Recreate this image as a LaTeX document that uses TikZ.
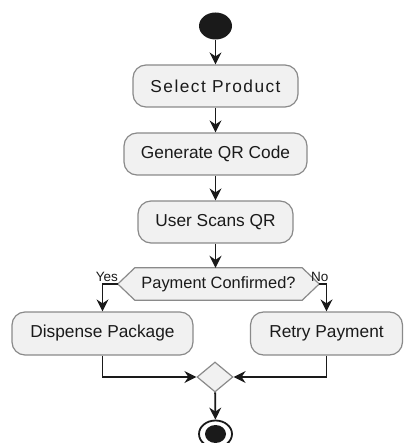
\documentclass[tikz,border=0pt]{standalone}
\usepackage{fontspec}
\setmainfont{Liberation Sans}
\newfontfamily\spacedfont[LetterSpace=8.5]{Liberation Sans}
\usetikzlibrary{arrows.meta,shapes.geometric}
\definecolor{boxfill}{HTML}{F1F1F1}
\definecolor{boxline}{HTML}{8A8A8A}
\definecolor{ink}{HTML}{1A1A1A}
\begin{document}
\begin{tikzpicture}[x=1pt,y=-1pt,
  act/.style={draw=boxline, fill=boxfill, line width=1.2pt, rounded corners=13pt,
    minimum height=42pt, inner sep=0pt, text=ink, font=\fontsize{17.3}{20}\selectfont},
  flow/.style={draw=ink, line width=1.8pt, -{Stealth[length=12pt,width=12pt,inset=4pt]}},
  small/.style={font=\fontsize{13.5}{15}\selectfont, text=ink, inner sep=0pt}
]
\useasboundingbox (0,0) rectangle (403,443);

\node[ellipse, fill=ink, minimum width=33pt, minimum height=27pt, inner sep=0pt] (start) at (215.5,26) {};

\node[act, minimum width=165pt] (sel) at (215.5,86) {\spacedfont\fontsize{17.3}{20}\selectfont Select Product};
\node[act, minimum width=183pt] (gen) at (215.5,154) {Generate QR Code};
\node[act, minimum width=155pt] (usr) at (215.5,222) {User Scans QR};

\node[minimum width=201pt, minimum height=32pt, inner sep=0pt] (dec) at (218.5,284) {};
\draw[boxline, fill=boxfill, line width=1.2pt]
  (dec.west) -- ([xshift=17pt]dec.north west) -- ([xshift=-17pt]dec.north east)
  -- (dec.east) -- ([xshift=-17pt]dec.south east) -- ([xshift=17pt]dec.south west) -- cycle;
\node[text=ink, font=\fontsize{16.4}{19}\selectfont] (dectext) at (dec.center) {Payment Confirmed?};

\node[act, minimum width=181pt, minimum height=43pt] (disp) at (102.5,333.5) {Dispense Package};
\node[act, minimum width=152pt, minimum height=43pt] (retry) at (326.5,333.5) {Retry Payment};

\node[diamond, draw=boxline, fill=boxfill, line width=1.2pt, minimum width=36pt, minimum height=30pt, inner sep=0pt] (merge) at (215,377) {};

\node[ellipse, draw=ink, line width=1.8pt, fill=white, minimum width=33pt, minimum height=27pt, inner sep=0pt] (end) at (215.5,434) {};
\node[ellipse, fill=ink, minimum width=21pt, minimum height=18pt, inner sep=0pt] (endin) at (end.center) {};

\node[small, anchor=base east] (yes) at (118,281.5) {Yes};
\node[small, anchor=base west] (no) at (311,281.5) {No};

\draw[flow] (start) -- (sel);
\draw[flow] (sel) -- (gen);
\draw[flow] (gen) -- (usr);
\draw[flow] (usr.south) -- (usr.south |- dec.north);
\draw[flow] (dec.west) -| (disp.north);
\draw[flow] (dec.east) -| (retry.north);
\draw[flow] (disp.south) |- (merge.west);
\draw[flow] (retry.south) |- (merge.east);
\draw[flow] (merge) -- (end);
\end{tikzpicture}
\end{document}
